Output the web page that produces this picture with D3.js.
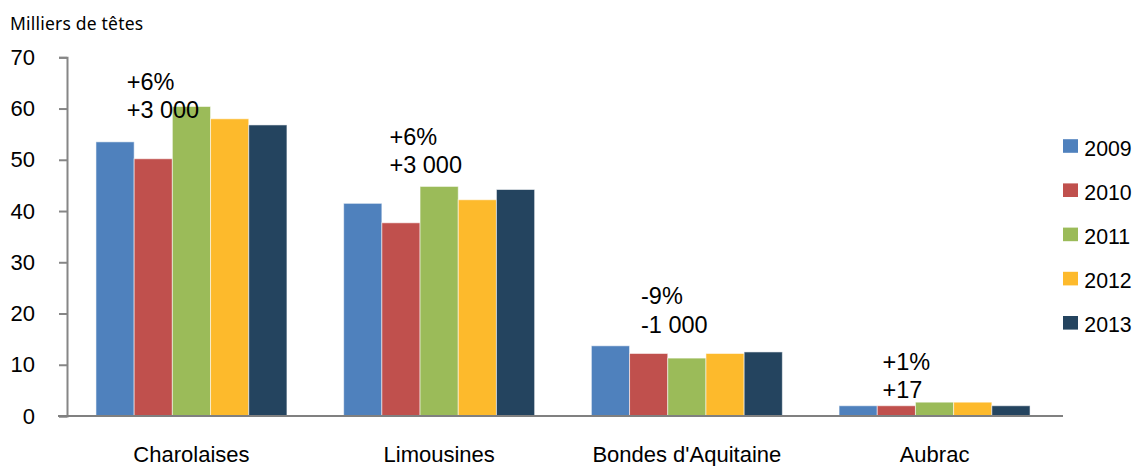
<!DOCTYPE html>
<html lang="fr">
<head>
<meta charset="utf-8">
<script src="https://cdn.jsdelivr.net/npm/d3@7"></script>
<style>
  html, body { margin: 0; padding: 0; background: #fff; }
  svg { display: block; }
  .axis text { font-family: "Liberation Sans", Arial, sans-serif; fill: #000; }
</style>
</head>
<body>
<svg id="chart" width="1135" height="466"></svg>
<script>
// Effectifs de vaches allaitantes par race (milliers de têtes)
const categories = ["Charolaises", "Limousines", "Bondes d'Aquitaine", "Aubrac"];
const years = ["2009", "2010", "2011", "2012", "2013"];
const values2009 = [53.5, 41.5, 13.7, 2.0];
const values2010 = [50.2, 37.7, 12.2, 2.0];
const values2011 = [60.4, 44.8, 11.3, 2.7];
const values2012 = [58.0, 42.2, 12.2, 2.7];
const values2013 = [56.8, 44.2, 12.5, 2.0];
const changePct = ["+6%", "+6%", "-9%", "+1%"];
const changeHeads = ["+3 000", "+3 000", "-1 000", "+17"];
const yTicks = [0, 10, 20, 30, 40, 50, 60, 70];
const yUnit = "Milliers de têtes";

const series = [values2009, values2010, values2011, values2012, values2013];
const colors = ["#4F81BD", "#C0504D", "#9BBB59", "#FDBA2C", "#24445F"];

// Placement of the change annotations inside each group (px)
const noteLayout = [
  { dx: 30.7, y: 118.3 },
  { dx: 45.8, y: 173.3 },
  { dx: 49.7, y: 332.7 },
  { dx: 43.5, y: 398.3 }
];

const svg = d3.select("#chart");

const x = d3.scaleBand()
  .domain(categories)
  .range([67.6, 1058.4])
  .paddingInner(0.229)
  .paddingOuter(0.1145);

const xInner = d3.scaleBand()
  .domain(years)
  .range([0, x.bandwidth()]);

const y = d3.scaleLinear()
  .domain([0, 70])
  .range([416, 57.3]);

// Bars
const groups = svg.append("g")
  .selectAll("g")
  .data(categories)
  .join("g")
  .attr("transform", d => `translate(${x(d)},0)`);

groups.selectAll("rect")
  .data((c, ci) => years.map((yr, si) => ({ yr, si, v: series[si][ci] })))
  .join("rect")
  .attr("x", d => xInner(d.yr))
  .attr("y", d => y(d.v))
  .attr("width", xInner.bandwidth())
  .attr("height", d => y(0) - y(d.v))
  .attr("fill", d => colors[d.si])
  .attr("stroke", "rgba(255,255,255,0.55)")
  .attr("stroke-width", 1);

// Y axis
const yAxis = svg.append("g")
  .attr("class", "axis")
  .attr("transform", "translate(67,0)")
  .call(d3.axisLeft(y).tickValues(yTicks).tickSize(8).tickSizeOuter(8).tickPadding(24));
yAxis.selectAll("text").style("font-size", "22px");
yAxis.selectAll("line, path").attr("stroke", "#868686").attr("stroke-width", 2);

// X axis
const xAxis = svg.append("g")
  .attr("class", "axis")
  .attr("transform", `translate(0,${y(0)})`)
  .call(d3.axisBottom(x).tickSize(0).tickPadding(30.5));
xAxis.select(".domain").remove();
xAxis.selectAll("text").style("font-size", "22px");
svg.append("line")
  .attr("x1", 58).attr("x2", 1063)
  .attr("y1", y(0)).attr("y2", y(0))
  .attr("stroke", "#808080").attr("stroke-width", 2);

// Unit label
svg.append("text")
  .attr("x", 10).attr("y", 30)
  .style("font-family", "'Noto Sans', 'Open Sans', sans-serif")
  .style("font-size", "17.5px")
  .style("letter-spacing", "0.2px")
  .attr("fill", "#000")
  .text(yUnit);

// Change annotations
categories.forEach((c, i) => {
  const t = svg.append("text")
    .attr("x", x(c) + noteLayout[i].dx)
    .attr("y", noteLayout[i].y)
    .style("font-family", "'Liberation Sans', Arial, sans-serif")
    .style("font-size", "23.5px")
    .attr("fill", "#000");
  t.append("tspan").attr("x", x(c) + noteLayout[i].dx).attr("dy", -28.7).text(changePct[i]);
  t.append("tspan").attr("x", x(c) + noteLayout[i].dx).attr("dy", 28.7).text(changeHeads[i]);
});

// Legend
const legend = svg.append("g").attr("transform", "translate(1063,146)");
const item = legend.selectAll("g")
  .data(years)
  .join("g")
  .attr("transform", (d, i) => `translate(0,${i * 44.2})`);
item.append("rect")
  .attr("x", 0).attr("y", -6.8)
  .attr("width", 15).attr("height", 13.6)
  .attr("fill", (d, i) => colors[i]);
item.append("text")
  .attr("x", 21.3).attr("y", 9.5)
  .style("font-family", "'Liberation Sans', Arial, sans-serif")
  .style("font-size", "21.3px")
  .attr("fill", "#000")
  .text(d => d);
</script>
</body>
</html>
